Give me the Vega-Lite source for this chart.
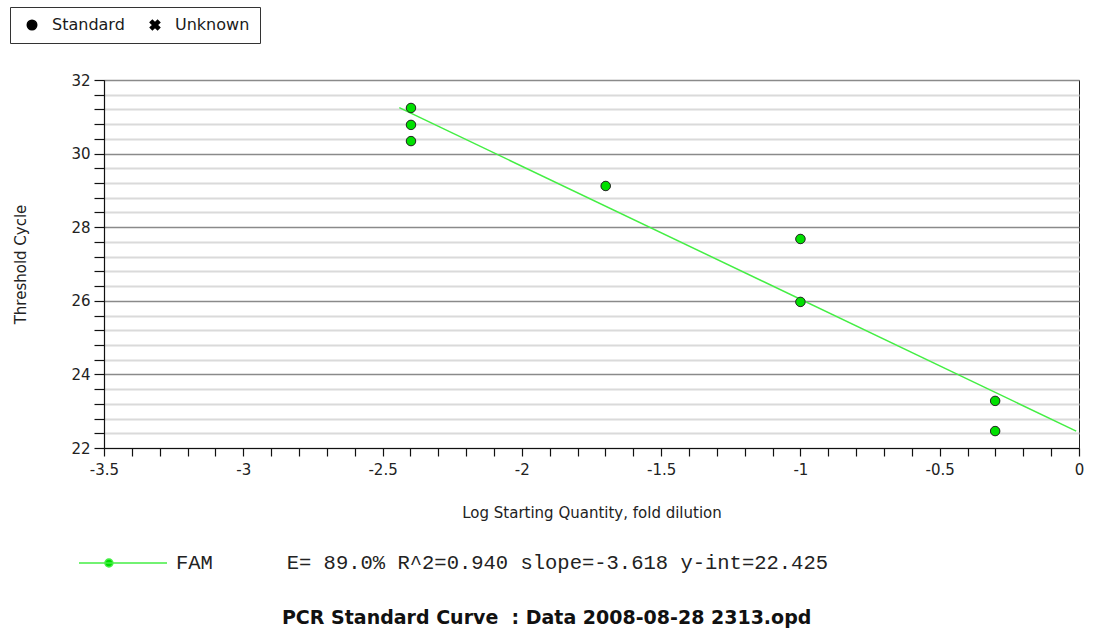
{
  "$schema": "https://vega.github.io/schema/vega-lite/v6.json",
  "autosize": {"type": "none"},
  "width": 975,
  "height": 368,
  "padding": {"left": 104, "top": 80, "right": 14, "bottom": 184},
  "background": "white",
  "config": {
    "view": {"stroke": "#222", "strokeWidth": 1},
    "axis": {"labelFont": "DejaVu Sans", "titleFont": "DejaVu Sans", "labelColor": "#222", "titleColor": "#222", "titleFontWeight": "normal", "domainColor": "#111", "tickColor": "#111", "domainWidth": 1.2, "tickWidth": 1.2}
  },
  "title": {
    "text": "PCR Standard Curve \u00a0: Data 2008-08-28 2313.opd",
    "orient": "bottom",
    "anchor": "middle",
    "frame": "bounds",
    "font": "DejaVu Sans",
    "fontSize": 19,
    "fontWeight": "bold",
    "color": "#111",
    "offset": 35
  },
  "datasets": {
    "pts": [
      {"x": -2.398, "y": 31.24, "type": "Standard"},
      {"x": -2.398, "y": 30.78, "type": "Standard"},
      {"x": -2.398, "y": 30.34, "type": "Standard"},
      {"x": -1.699, "y": 29.12, "type": "Standard"},
      {"x": -1.0, "y": 27.68, "type": "Standard"},
      {"x": -1.0, "y": 25.97, "type": "Standard"},
      {"x": -0.301, "y": 23.28, "type": "Standard"},
      {"x": -0.301, "y": 22.46, "type": "Standard"}
    ],
    "fit": [
      {"x": -2.44, "y": 31.25, "series": "FAM\u00a0\u00a0\u00a0\u00a0\u00a0\u00a0E= 89.0% R^2=0.940 slope=-3.618 y-int=22.425"},
      {"x": -0.01, "y": 22.46, "series": "FAM\u00a0\u00a0\u00a0\u00a0\u00a0\u00a0E= 89.0% R^2=0.940 slope=-3.618 y-int=22.425"}
    ]
  },
  "encoding": {
    "x": {
      "field": "x", "type": "quantitative",
      "scale": {"domain": [-3.5, 0], "nice": false, "zero": false},
      "axis": {
        "title": "Log Starting Quantity, fold dilution",
        "titleFontSize": 15, "titlePadding": 28,
        "labelFontSize": 15, "labelPadding": 6, "tickSize": 8,
        "grid": false, "labelFlush": false, "labelOverlap": false,
        "values": [-3.5,-3.4,-3.3,-3.2,-3.1,-3,-2.9,-2.8,-2.7,-2.6,-2.5,-2.4,-2.3,-2.2,-2.1,-2,-1.9,-1.8,-1.7,-1.6,-1.5,-1.4,-1.3,-1.2,-1.1,-1,-0.9,-0.8,-0.7,-0.6,-0.5,-0.4,-0.3,-0.2,-0.1,0],
        "labelExpr": "abs(datum.value*2 - round(datum.value*2)) < 0.001 ? '' + round(datum.value*10)/10 : ''"
      }
    },
    "y": {
      "field": "y", "type": "quantitative",
      "scale": {"domain": [22, 32], "nice": false, "zero": false},
      "axis": {
        "title": "Threshold Cycle",
        "titleFontSize": 15, "titlePadding": 42,
        "labelFontSize": 15, "labelPadding": 4, "tickSize": 10,
        "labelOverlap": false, "labelFlush": false,
        "values": [22,22.4,22.8,23.2,23.6,24,24.4,24.8,25.2,25.6,26,26.4,26.8,27.2,27.6,28,28.4,28.8,29.2,29.6,30,30.4,30.8,31.2,31.6,32],
        "labelExpr": "abs(datum.value/2 - round(datum.value/2)) < 0.001 ? '' + round(datum.value) : ''",
        "grid": true,
        "gridColor": {"condition": {"test": "abs(datum.value/2 - round(datum.value/2)) < 0.001", "value": "#8a8a8a"}, "value": "#dadada"},
        "gridWidth": {"condition": {"test": "abs(datum.value/2 - round(datum.value/2)) < 0.001", "value": 1.3}, "value": 2}
      }
    }
  },
  "layer": [
    {
      "data": {"name": "pts"},
      "mark": {"type": "point", "filled": true, "fill": "black", "stroke": "black", "strokeWidth": 0.5, "size": 80, "opacity": 1},
      "encoding": {
        "shape": {
          "field": "type", "type": "nominal",
          "scale": {"domain": ["Standard", "Unknown"], "range": ["circle", "M-1,-0.55L-0.55,-1L0,-0.45L0.55,-1L1,-0.55L0.45,0L1,0.55L0.55,1L0,0.45L-0.55,1L-1,0.55L-0.45,0Z"]},
          "legend": {
            "orient": "none", "legendX": -94, "legendY": -73,
            "direction": "horizontal", "title": null,
            "padding": 10, "strokeColor": "#333", "fillColor": "white",
            "symbolOffset": 4, "labelOffset": 12, "columnPadding": 18,
            "symbolSize": 90,
            "labelFont": "DejaVu Sans", "labelFontSize": 16, "labelColor": "#1a1a1a"
          }
        }
      }
    },
    {
      "data": {"name": "fit"},
      "mark": {"type": "line", "strokeWidth": 1.5},
      "encoding": {
        "stroke": {
          "field": "series", "type": "nominal",
          "scale": {"range": ["#44ee44"]},
          "legend": {
            "orient": "none", "legendX": -26, "legendY": 438,
            "title": null, "padding": 0,
            "symbolType": "M-1,0L1,0M-0.23,0A0.09,0.09 0 1,1 -0.41,0A0.09,0.09 0 1,1 -0.23,0Z",
            "symbolSize": 7744, "symbolStrokeWidth": 1.5,
            "symbolFillColor": "#00dd00", "symbolStrokeColor": "#33ee33",
            "labelOffset": 8, "labelFont": "Liberation Mono", "labelFontSize": 20.5, "labelColor": "#222", "labelLimit": 1000,
            "encode": {"symbols": {"update": {"fill": {"value": "#00dd00"}, "stroke": {"value": "#33ee33"}, "opacity": {"value": 1}}}}
          }
        }
      }
    },
    {
      "data": {"name": "pts"},
      "mark": {"type": "circle", "fill": "#00e000", "stroke": "#2a2a2a", "strokeWidth": 1, "size": 90, "opacity": 1}
    }
  ]
}
